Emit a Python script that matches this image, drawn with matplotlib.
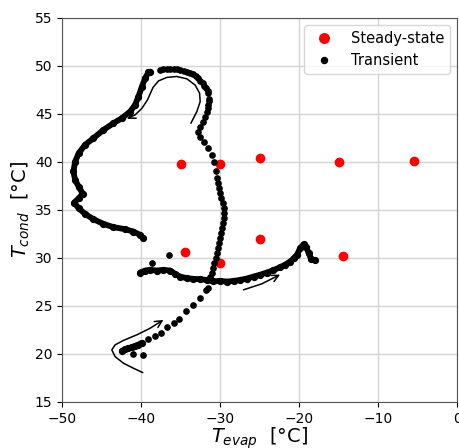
import numpy as np
import matplotlib.pyplot as plt
from matplotlib.patches import FancyArrowPatch
from matplotlib.path import Path

# Points en régime permanent
ss_evap = [-35.0, -30.0, -25.0, -15.0, -5.5, -34.5, -25.0, -30.0, -14.5]
ss_cond = [39.8, 39.8, 40.4, 40.0, 40.1, 30.6, 32.0, 29.5, 30.2]

# Transitoire : points espacés (diagonale, colonne, arc du haut)
tr_evap = [-40.97, -39.7,
           -39.08, -38.23, -37.47, -36.67, -35.9, -35.15, -34.3, -33.38, -32.53, -31.8, -31.6,
           -31.27, -31.05, -30.85, -30.72, -30.54, -30.42, -30.29, -30.16, -30.0, -29.87,
           -29.75, -29.66, -29.53, -29.49, -29.49, -29.66, -29.84, -30.0, -30.13, -30.22,
           -30.34, -30.5, -30.76, -31.05, -31.48, -32.1, -32.6, -32.75, -32.53, -32.2, -31.9,
           -31.7, -31.55, -31.48, -31.4, -31.4, -31.48, -31.6, -31.77, -32.0, -32.2, -32.5,
           -32.75, -33.05, -33.38, -33.8, -34.2, -34.6, -35.06, -35.5, -35.9, -36.3, -36.75,
           -37.2, -37.6,
           -38.6, -36.5]
tr_cond = [20.0, 19.86,
           21.56, 21.88, 22.15, 22.78, 23.26, 23.65, 24.5, 25.1, 25.8, 26.67, 26.9,
           28.05, 28.4, 28.93, 29.45, 29.97, 30.49, 31.01, 31.53, 32.05, 32.57,
           33.09, 33.61, 34.14, 34.66, 35.18, 35.7, 36.22, 36.74, 37.26, 37.78,
           38.3, 39.0, 40.03, 40.73, 41.42, 42.05, 42.64, 43.16, 43.68, 44.2, 44.7,
           45.24, 45.6, 45.94, 46.3, 46.6, 47.15, 47.4, 47.67, 47.95, 48.2, 48.45,
           48.7, 48.93, 49.13, 49.3, 49.4, 49.5, 49.58, 49.65, 49.7, 49.72, 49.7,
           49.65, 49.58,
           29.45, 30.27]

# Transitoire : portions denses (points qui se recouvrent)
loop_evap = [-38.86, -39.07, -39.5, -39.9, -40.34, -40.76, -41.4, -42.45, -43.5, -44.77,
             -46.04, -47.1, -47.9, -48.35, -48.57, -48.35, -47.9, -47.4, -47.9, -48.48,
             -47.9, -47.09, -46.04, -44.77, -43.5, -42.03, -40.97, -40.13, -39.7]
loop_cond = [49.4, 49.33, 48.7, 47.85, 46.8, 45.94, 45.24, 44.55, 44.03, 43.33,
             42.47, 41.77, 40.9, 40.03, 39.0, 38.1, 37.43, 36.7, 36.2, 35.76,
             35.17, 34.58, 34.03, 33.54, 33.2, 32.99, 32.74, 32.4, 32.05]

mid_evap = [-40.13, -39.5, -38.86, -38.0, -37.18, -36.33, -35.7, -35.06, -34.2, -33.38,
            -32.53, -31.7, -30.85, -30.0, -29.15, -28.3, -27.47, -26.6, -25.78, -24.9,
            -24.1, -23.25, -22.41, -21.75, -21.14, -20.7, -20.3, -19.87, -19.45, -19.1,
            -18.8, -18.5, -18.0]
mid_cond = [28.47, 28.68, 28.75, 28.68, 28.75, 28.68, 28.33, 28.05, 27.88, 27.81,
            27.78, 27.7, 27.55, 27.6, 27.53, 27.6, 27.7, 27.85, 28.05, 28.25,
            28.47, 28.72, 29.03, 29.3, 29.62, 29.95, 30.31, 31.0, 31.4, 31.1,
            30.5, 29.9, 29.75]

low_evap = [-42.44, -42.03, -41.6, -41.18, -40.76, -40.34, -39.91]
low_cond = [20.31, 20.49, 20.59, 20.7, 20.83, 20.97, 21.15]

# Flèches indiquant le sens de parcours
arrow_top = [(-33.7, 44.03), (-32.95, 45.24), (-32.53, 46.28), (-32.6, 47.15), (-33.16, 48.0),
             (-34.2, 48.65), (-35.5, 48.9), (-36.75, 48.8), (-37.8, 48.44), (-38.5, 47.75),
             (-39.2, 46.45), (-39.9, 45.58), (-40.76, 44.9), (-41.8, 44.48)]
arrow_low = [(-39.79, 18.05), (-40.97, 18.5), (-42.24, 19.03), (-43.3, 19.72), (-43.71, 20.42),
             (-43.29, 20.94), (-42.24, 21.4), (-40.55, 21.98), (-38.86, 22.67), (-37.18, 23.54)]
arrow_right = [(-27.05, 26.67), (-24.72, 27.3), (-22.41, 28.26)]

fig = plt.figure(figsize=(4.6, 4.48), dpi=100)
ax = fig.add_axes([0.135, 0.103, 0.859, 0.857])

ax.plot(ss_evap, ss_cond, 'o', color='red', ms=6, label='Steady-state', zorder=3)
ax.plot(tr_evap, tr_cond, 'o', color='black', ms=3.8, label='Transient', zorder=3)
for xs, ys in [(loop_evap, loop_cond), (mid_evap, mid_cond), (low_evap, low_cond)]:
    ax.plot(xs, ys, 'o-', color='black', ms=4.2, lw=4.2,
            solid_capstyle='round', solid_joinstyle='round', zorder=3)

for pts in [arrow_top, arrow_low, arrow_right]:
    path = Path(pts, [Path.MOVETO] + [Path.LINETO] * (len(pts) - 1))
    ax.add_patch(FancyArrowPatch(path=path, arrowstyle='->,head_length=0.5,head_width=0.25',
                                 mutation_scale=10, lw=1.1, color='black',
                                 joinstyle='round', capstyle='round', zorder=4))

ax.set_xlim(-50, 0)
ax.set_ylim(15, 55)
ax.set_xticks(np.arange(-50, 1, 10))
ax.set_yticks(np.arange(15, 56, 5))
ax.tick_params(labelsize=10)
ax.grid(True, color='#d4d4d4', lw=1)
ax.set_axisbelow(True)
for s in ax.spines.values():
    s.set_color('#555555')

ax.set_xlabel(r'$T_{evap}$  [°C]', fontsize=14, labelpad=0)
ax.set_ylabel(r'$T_{cond}$  [°C]', fontsize=14, labelpad=2)
ax.legend(loc='upper right', fontsize=10.5, markerscale=1.15)

plt.savefig('out.png', dpi=100)
